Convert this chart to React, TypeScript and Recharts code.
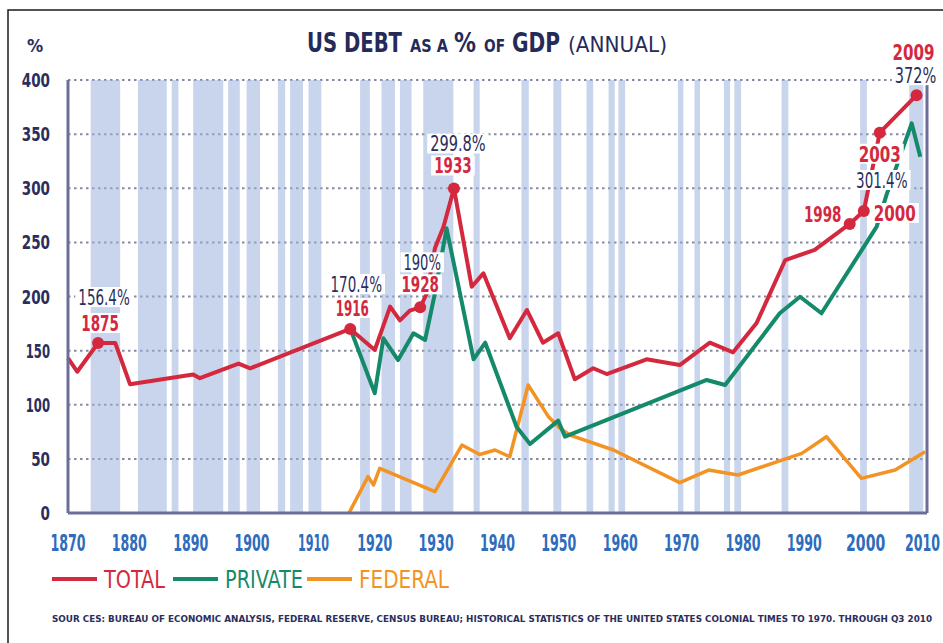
import React from "react";
import {
  LineChart,
  Line,
  XAxis,
  YAxis,
  CartesianGrid,
  ReferenceArea,
  ReferenceDot,
  ReferenceLine,
} from "recharts";

/* ---------------- DATA ---------------- */
const xTicks = [1870, 1880, 1890, 1900, 1910, 1920, 1930, 1940, 1950, 1960, 1970, 1980, 1990, 2000, 2010];
const yTicks = [0, 50, 100, 150, 200, 250, 300, 350, 400];

// shaded recession periods (start / end year)
const recessionStart = [
  1873.7, 1881.4, 1886.9, 1890.4, 1896.1, 1899.1, 1904.2, 1906.2, 1909.2, 1917.6, 1921.1, 1924.1, 1927.9,
  1936.1, 1943.9, 1949.1, 1954.5, 1958.1, 1959.7, 1969.4, 1972.1, 1976.9, 1978.6, 1986.3, 1999.1, 2007.1,
];
const recessionEnd = [
  1878.5, 1886.1, 1888.0, 1895.3, 1898.0, 1901.3, 1905.4, 1908.3, 1911.3, 1919.2, 1923.3, 1926.0, 1932.8,
  1937.1, 1945.1, 1950.4, 1955.6, 1959.1, 1960.8, 1970.3, 1973.0, 1977.9, 1979.7, 1987.4, 2000.2, 2009.4,
];

const totalYears = [
  1870, 1871.5, 1874.9, 1877.7, 1880.1, 1890.4, 1891.5, 1897.8, 1899.7, 1916, 1920, 1922.5, 1924.1, 1925.7,
  1927.4, 1928.5, 1929.8, 1931.2, 1932.9, 1935.8, 1937.7, 1942.0, 1944.8, 1947.4, 1949.9, 1952.6, 1955.6,
  1957.8, 1964.3, 1969.7, 1974.6, 1978.4, 1982.2, 1986.9, 1991.7, 1997.4, 1999.7, 2002.3, 2008.3,
];
const totalValues = [
  143, 130.5, 157, 157, 119, 128, 124.5, 138, 133.7, 170, 150.6, 190.6, 178, 187,
  190, 203, 244.5, 264.5, 299.8, 209, 221.4, 161.4, 187.5, 157.3, 166, 123.5, 133.7,
  128.4, 142, 136.7, 157.3, 148.4, 175.2, 233.7, 243, 267, 279, 351.3, 386,
];

const privateYears = [
  1916.2, 1920.0, 1921.4, 1923.8, 1926.3, 1928.2, 1929.8, 1931.7, 1936.1, 1938.0, 1943.1, 1945.3, 1949.9,
  1951.0, 1974.1, 1977.1, 1986.0, 1989.3, 1992.8, 2001.8, 2003.4, 2007.5, 2008.9,
];
const privateValues = [
  167.5, 110.6, 161.4, 141.3, 166, 159.8, 203, 263, 142, 157.3, 79.7, 63.7, 85.3,
  70.5, 122.9, 118.2, 184.5, 199.8, 184.5, 264.5, 293.8, 360, 329,
];

const federalYears = [
  1915.8, 1918.9, 1919.8, 1920.8, 1929.8, 1934.2, 1937.1, 1939.6, 1942.0, 1945.0, 1948.3, 1950.2, 1951.8,
  1958.9, 1969.7, 1974.4, 1979.2, 1989.6, 1993.6, 1999.3, 2004.8, 2009.7,
];
const federalValues = [
  0, 33.6, 25.9, 41.3, 19.7, 62.8, 54, 58.2, 52, 118.2, 89, 78.2, 72,
  58.2, 28, 39.7, 35.1, 55.1, 70.5, 32, 39.7, 56.6,
];

// highlighted points on the total line
const markYears = [1874.9, 1916, 1927.4, 1932.9, 1997.4, 1999.7, 2002.3, 2008.3];
const markValues = [157, 170, 190, 299.8, 267, 279, 351.3, 386];
const markPercent = ["156.4%", "170.4%", "190%", "299.8%", "", "301.4%", "", "372%"];
const markYearText = ["1875", "1916", "1928", "1933", "1998", "2000", "2003", "2009"];

const seriesNames = ["TOTAL", "PRIVATE", "FEDERAL"];
const titleParts = ["US DEBT", "AS A", "%", "OF", "GDP", "(ANNUAL)"];

/* ---------------- STYLE ---------------- */
const NARROW = '"DejaVu Sans Condensed", "Liberation Sans Narrow", sans-serif';
const RED = "#d4283e";
const GREEN = "#158a6b";
const ORANGE = "#f29324";
const NAVY = "#2b2e5c";
const BLUE = "#2f6cbc";
const AXIS = "#6c6e98";
const BAND = "#9db2dc";

// label offsets from the dot centre: [dx, dy] for percent text, then year text
const markLayout: { pct: number[] | null; yr: number[] }[] = [
  { pct: [6, -46], yr: [2, -20] },
  { pct: [6, -45], yr: [2, -21] },
  { pct: [2, -45], yr: [0, -23] },
  { pct: [4, -45], yr: [-1, -23] },
  { pct: null, yr: [-27, -10] },
  { pct: [18, -31], yr: [31, 2] },
  { pct: null, yr: [0, 21] },
  { pct: [-1, -20], yr: [-3, -43] },
];

// title pieces: left x, width, font size, weight
const titleLayout = [
  [307, 95, 27, 700],
  [410, 38, 18, 700],
  [454, 22, 27, 700],
  [484, 21, 18, 700],
  [512, 48, 27, 700],
  [568, 99, 21, 400],
];

const legendColors = [RED, GREEN, ORANGE];
const legendWidths = [61, 78, 90];

/* ---------------- HELPERS ---------------- */
const toPoints = (xs: number[], vs: number[]) => xs.map((year, i) => ({ year, value: vs[i] }));

// condensed look: width of the reference's narrow digits
const fitWidth = (s: string, digit: number) =>
  s.split("").reduce((w, c) => w + (c === "1" ? digit * 0.58 : c === "%" ? 13 : c === "." ? 4.5 : digit), 0);

const Fit = ({ children, digit, ...rest }: any) => (
  <text textLength={fitWidth(String(children), digit)} lengthAdjust="spacingAndGlyphs" {...rest}>
    {children}
  </text>
);

const XTick = ({ x, y, payload, index }: any) => {
  const last = index === xTicks.length - 1;
  return (
    <Fit
      x={last ? x + 13 : x}
      y={y + 36}
      digit={9.8}
      textAnchor={last ? "end" : "middle"}
      fill={BLUE}
      fontSize={23}
      fontWeight={700}
      fontFamily={NARROW}
    >
      {payload.value}
    </Fit>
  );
};

const YTick = ({ x, y, payload }: any) => (
  <Fit x={x} y={y + 7} digit={9.4} textAnchor="end" fill={NAVY} fontSize={20} fontWeight={700} fontFamily={NARROW}>
    {payload.value}
  </Fit>
);

const MarkShape = ({ cx, cy, idx }: any) => {
  const lay = markLayout[idx];
  const pieces: { text: string; color: string; weight: number; digit: number; off: number[] }[] = [];
  if (markPercent[idx] && lay.pct) pieces.push({ text: markPercent[idx], color: NAVY, weight: 400, digit: 9.5, off: lay.pct });
  pieces.push({ text: markYearText[idx], color: RED, weight: 700, digit: 10.5, off: lay.yr });
  return (
    <g>
      {pieces.map((p) => {
        const w = fitWidth(p.text, p.digit);
        const tx = cx + p.off[0];
        const ty = cy + p.off[1];
        return (
          <g key={p.text}>
            <rect x={tx - w / 2 - 3} y={ty - 10} width={w + 6} height={20} fill="#fff" />
            <Fit x={tx} y={ty + 8} digit={p.digit} textAnchor="middle" fill={p.color} fontSize={21} fontWeight={p.weight} fontFamily={NARROW}>
              {p.text}
            </Fit>
          </g>
        );
      })}
      <circle cx={cx} cy={cy} r={6} fill={RED} />
    </g>
  );
};

/* ---------------- COMPONENT ---------------- */
export default function App() {
  const legendX = [52, 173, 307];

  return (
    <div style={{ position: "relative", width: 943, height: 643, background: "#fff", overflow: "hidden" }}>
      <style>{`body{margin:0;background:#fff}`}</style>

      {/* FRAME, TITLE, LEGEND, SOURCE */}
      <svg width={943} height={643} style={{ position: "absolute", left: 0, top: 0 }}>
        <rect x={8} y={10} width={1000} height={700} fill="none" stroke="#1a1a1a" strokeWidth={1.5} />
        <text x={35} y={52} textAnchor="middle" fill={NAVY} fontSize={18} fontWeight={700} fontFamily={NARROW}>
          %
        </text>
        {titleParts.map((t, i) => {
          const [x, w, size, weight] = titleLayout[i];
          return (
            <text
              key={t}
              x={x}
              y={52}
              fill="#262a58"
              fontSize={size}
              fontWeight={weight}
              fontFamily={weight === 700 ? NARROW : '"DejaVu Sans", sans-serif'}
              textLength={w}
              lengthAdjust="spacingAndGlyphs"
            >
              {t}
            </text>
          );
        })}

        {seriesNames.map((name, i) => (
          <g key={name}>
            <line x1={legendX[i]} x2={legendX[i] + 45} y1={579} y2={579} stroke={legendColors[i]} strokeWidth={4} />
            <text
              x={legendX[i] + 52}
              y={588}
              fill={legendColors[i]}
              fontSize={25}
              fontFamily={NARROW}
              textLength={legendWidths[i]}
              lengthAdjust="spacingAndGlyphs"
            >
              {name}
            </text>
          </g>
        ))}

        <text
          x={52}
          y={622}
          fill={NAVY}
          fontSize={9.5}
          fontWeight={700}
          fontFamily={NARROW}
          textLength={880}
          lengthAdjust="spacingAndGlyphs"
        >
          SOUR CES: BUREAU OF ECONOMIC ANALYSIS, FEDERAL RESERVE, CENSUS BUREAU; HISTORICAL STATISTICS OF THE UNITED
          STATES COLONIAL TIMES TO 1970. THROUGH Q3 2010
        </text>
      </svg>

      {/* CHART */}
      <div style={{ position: "absolute", left: 0, top: 0 }}>
        <LineChart width={943} height={560} margin={{ top: 80, right: 16, bottom: 0, left: 0 }}>
          <CartesianGrid vertical={false} stroke="#868a9e" strokeWidth={2} strokeDasharray="2.5 3.5" />

          {recessionStart.map((s, i) => (
            <ReferenceArea key={`r${i}`} x1={s} x2={recessionEnd[i]} fill={BAND} fillOpacity={0.55} stroke="none" />
          ))}

          <XAxis
            type="number"
            dataKey="year"
            domain={[1870, 2010]}
            ticks={xTicks}
            interval={0}
            height={47}
            tickSize={0}
            tickLine={false}
            tick={<XTick />}
            axisLine={{ stroke: AXIS, strokeWidth: 3 }}
          />
          <YAxis
            type="number"
            domain={[0, 400]}
            ticks={yTicks}
            interval={0}
            width={68}
            tickSize={0}
            tickMargin={18}
            tickLine={false}
            tick={<YTick />}
            axisLine={{ stroke: AXIS, strokeWidth: 3 }}
          />
          <ReferenceLine x={2010} stroke={AXIS} strokeWidth={3} />

          <Line
            data={toPoints(federalYears, federalValues)}
            dataKey="value"
            type="linear"
            stroke={ORANGE}
            strokeWidth={3.5}
            strokeLinejoin="round"
            dot={false}
            isAnimationActive={false}
          />
          <Line
            data={toPoints(privateYears, privateValues)}
            dataKey="value"
            type="linear"
            stroke={GREEN}
            strokeWidth={4}
            strokeLinejoin="round"
            dot={false}
            isAnimationActive={false}
          />
          <Line
            data={toPoints(totalYears, totalValues)}
            dataKey="value"
            type="linear"
            stroke={RED}
            strokeWidth={4}
            strokeLinejoin="round"
            dot={false}
            isAnimationActive={false}
          />

          {markYears.map((yr, i) => (
            <ReferenceDot
              key={`m${i}`}
              x={yr}
              y={markValues[i]}
              r={6}
              shape={(p: any) => <MarkShape cx={p.cx} cy={p.cy} idx={i} />}
            />
          ))}
        </LineChart>
      </div>
    </div>
  );
}
